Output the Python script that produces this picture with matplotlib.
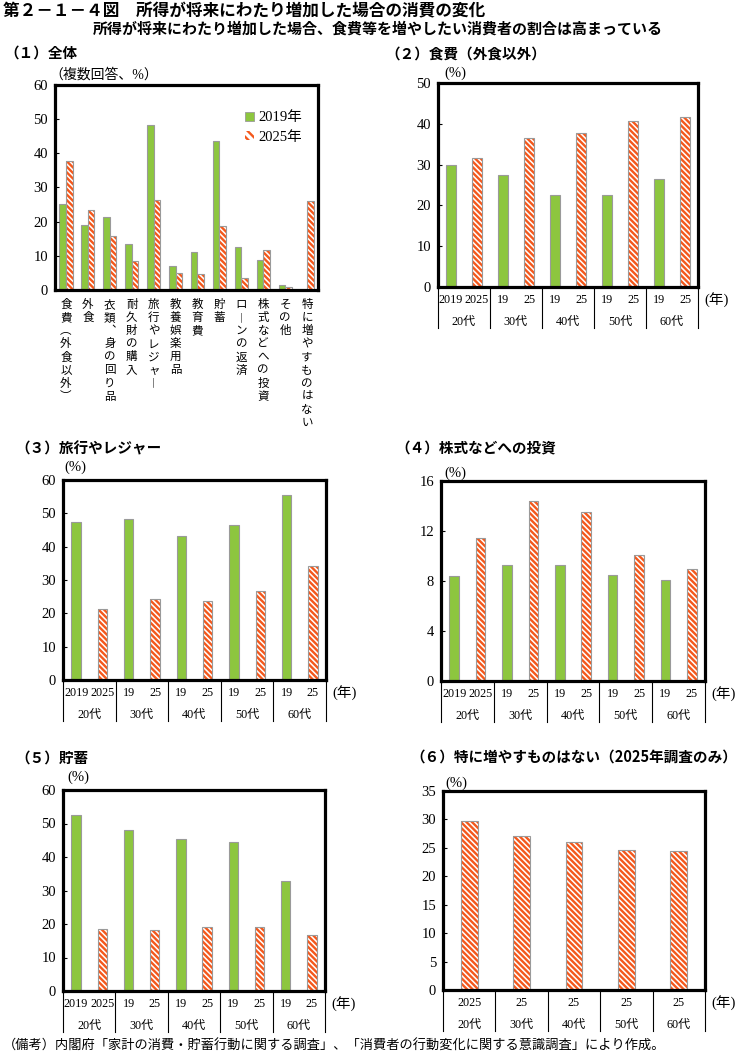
import numpy as np
import matplotlib
matplotlib.use('Agg')
import matplotlib.pyplot as plt
from matplotlib.patches import Patch
from matplotlib.transforms import blended_transform_factory

# ---------------- data ----------------
cats_all = ['食費︵外食以外︶', '外食', '衣類︑身の回り品', '耐久財の購入', '旅行やレジャ︱',
            '教養娯楽用品', '教育費', '貯蓄', 'ロ︱ンの返済', '株式などへの投資', 'その他',
            '特に増やすものはない']
all_2019 = [25.3, 19.1, 21.5, 13.6, 48.3, 6.9, 11.0, 43.5, 12.7, 8.8, 1.5, np.nan]
all_2025 = [37.7, 23.3, 15.8, 8.6, 26.3, 5.1, 4.7, 18.8, 3.4, 11.7, 1.0, 26.1]

decades = ['20代', '30代', '40代', '50代', '60代']
year_labels = ['2019', '2025', '19', '25', '19', '25', '19', '25', '19', '25']
year_labels_25 = ['2025', '25', '25', '25', '25']

food_2019 = [29.8, 27.4, 22.5, 22.5, 26.5]
food_2025 = [31.5, 36.4, 37.7, 40.8, 41.7]
travel_2019 = [47.3, 48.2, 43.2, 46.4, 55.4]
travel_2025 = [21.3, 24.4, 23.8, 26.7, 34.3]
stock_2019 = [8.4, 9.3, 9.3, 8.5, 8.1]
stock_2025 = [11.4, 14.4, 13.5, 10.1, 9.0]
save_2019 = [52.5, 48.2, 45.5, 44.6, 32.9]
save_2025 = [18.5, 18.3, 19.0, 19.2, 16.8]
none_2025 = [29.8, 27.1, 26.1, 24.6, 24.5]

# ---------------- style ----------------
GREEN = '#8DC63F'
ORANGE = '#F4581C'
GRAY = '#9A9A9A'
HATCH = '\\' * 6
SERIF = ['Liberation Serif', 'Noto Sans CJK JP']
SANS = ['Noto Sans CJK JP', 'DejaVu Sans']

plt.rcParams['font.family'] = SERIF
plt.rcParams['hatch.linewidth'] = 1.7
plt.rcParams['hatch.color'] = ORANGE

W, H = 738, 1057
fig = plt.figure(figsize=(W / 100, H / 100), dpi=100)


def add_ax(l, r, t, b):
    ax = fig.add_axes([l / W, 1 - b / H, (r - l) / W, (b - t) / H])
    for s in ax.spines.values():
        s.set_linewidth(2.3)
        s.set_color('black')
    ax.tick_params(axis='y', direction='in', length=3, width=0.8, labelsize=10.5, pad=5)
    return ax


def ftext(x, y, s, **kw):
    fig.text(x / W, 1 - y / H, s, **kw)


def hatched_bar(ax, x, v, w):
    ax.bar(x, v, w, color='white', edgecolor=ORANGE, hatch=HATCH, linewidth=0)
    ax.bar(x, v, w, fill=False, edgecolor=GRAY, linewidth=0.8)


def green_bar(ax, x, v, w):
    ax.bar(x, v, w, color=GREEN, edgecolor=GRAY, linewidth=0.8)


def table(ax, hpx, labels_row1, n_groups, per_group):
    trans = blended_transform_factory(ax.transData, ax.transAxes)
    npos = n_groups * per_group
    for i, lab in enumerate(labels_row1):
        ax.text(i, -13 / hpx, lab, transform=trans, ha='center', va='center',
                fontsize=8.7, family=SERIF)
    for g in range(n_groups):
        xc = g * per_group + (per_group - 1) / 2
        ax.text(xc, -35 / hpx, decades[g], transform=trans, ha='center', va='center',
                fontsize=8.7, family=SERIF)
    for g in range(n_groups + 1):
        xb = g * per_group - 0.5
        ax.plot([xb, xb], [0, -41 / hpx], transform=trans, color='black', lw=0.8,
                clip_on=False)
    ax.set_xticks([])
    ax.set_xlim(-0.5, npos - 0.5)


def age_panel(l, r, t, b, v19, v25, ymax, step):
    ax = add_ax(l, r, t, b)
    xs = np.arange(len(decades)) * 2
    green_bar(ax, xs, v19, 0.36)
    hatched_bar(ax, xs + 1, v25, 0.36)
    ax.set_ylim(0, ymax)
    ax.set_yticks(np.arange(0, ymax + 0.01, step))
    table(ax, b - t, year_labels, len(decades), 2)
    ftext(r + 6, b + 13, '(年)', fontsize=10.5, family=SERIF, va='center', ha='left')
    return ax


# ---------------- titles ----------------
ftext(3, 11, '第２－１－４図　所得が将来にわたり増加した場合の消費の変化', fontsize=12,
      family=SANS, fontweight='bold', va='center', ha='left')
ftext(378, 29, '所得が将来にわたり増加した場合、食費等を増やしたい消費者の割合は高まっている',
      fontsize=10.8, family=SANS, fontweight='bold', va='center', ha='center')

# ---------------- panel 1 ----------------
ax1 = add_ax(55, 318, 85, 290)
x = np.arange(len(cats_all))
green_bar(ax1, x - 0.15, all_2019, 0.3)
hatched_bar(ax1, x + 0.15, all_2025, 0.3)
ax1.set_xlim(-0.5, len(cats_all) - 0.5)
ax1.set_ylim(0, 60)
ax1.set_yticks(np.arange(0, 61, 10))
ax1.set_xticks([])
trans1 = blended_transform_factory(ax1.transData, ax1.transAxes)
for i, c in enumerate(cats_all):
    ax1.text(i, -8 / 205, '\n'.join(c), transform=trans1, ha='center', va='top',
             fontsize=8.3, family=SANS, linespacing=1.01)
handles = [Patch(facecolor=GREEN, edgecolor=GRAY, linewidth=0.6),
           Patch(facecolor='white', edgecolor=ORANGE, hatch='\\\\\\\\', linewidth=0)]
ax1.legend(handles, ['2019年', '2025年'], loc='upper left', bbox_to_anchor=(0.70, 0.90),
           frameon=False, handlelength=0.6, handleheight=0.6, handletextpad=0.3,
           fontsize=10.5, labelspacing=0.45, borderaxespad=0)
ftext(4, 53, '（１）全体', fontsize=10.5, family=SANS, fontweight='bold', va='center')
ftext(49, 75, '（複数回答、%）', fontsize=10, family=SERIF, va='center')

# ---------------- panel 2 ----------------
age_panel(438, 698, 83, 287, food_2019, food_2025, 50, 10)
ftext(385, 54, '（２）食費（外食以外）', fontsize=10.5, family=SANS, fontweight='bold', va='center')
ftext(444, 73, '(%)', fontsize=10.5, va='center')

# ---------------- panel 3 ----------------
age_panel(63, 326, 480, 680, travel_2019, travel_2025, 60, 10)
ftext(15, 448, '（３）旅行やレジャー', fontsize=10.5, family=SANS, fontweight='bold', va='center')
ftext(64, 467, '(%)', fontsize=10.5, va='center')

# ---------------- panel 4 ----------------
age_panel(441, 705, 481, 681, stock_2019, stock_2025, 16, 4)
ftext(395, 448, '（４）株式などへの投資', fontsize=10.5, family=SANS, fontweight='bold', va='center')
ftext(444, 473, '(%)', fontsize=10.5, va='center')

# ---------------- panel 5 ----------------
age_panel(63, 325, 790, 991, save_2019, save_2025, 60, 10)
ftext(15, 758, '（５）貯蓄', fontsize=10.5, family=SANS, fontweight='bold', va='center')
ftext(67, 777, '(%)', fontsize=10.5, va='center')

# ---------------- panel 6 ----------------
ax6 = add_ax(443, 705, 791, 990)
hatched_bar(ax6, np.arange(len(decades)), none_2025, 0.32)
ax6.set_ylim(0, 35)
ax6.set_yticks(np.arange(0, 36, 5))
table(ax6, 199, year_labels_25, len(decades), 1)
ftext(711, 1003, '(年)', fontsize=10.5, family=SERIF, va='center', ha='left')
ftext(410, 757, '（６）特に増やすものはない（2025年調査のみ）', fontsize=10.5, family=SANS,
      fontweight='bold', va='center')
ftext(445, 783, '(%)', fontsize=10.5, va='center')

# ---------------- footer ----------------
ftext(3, 1046, '（備考）内閣府「家計の消費・貯蓄行動に関する調査」、「消費者の行動変化に関する意識調査」により作成。',
      fontsize=9.5, family=SANS, va='center')

fig.savefig('out.png', dpi=100)
